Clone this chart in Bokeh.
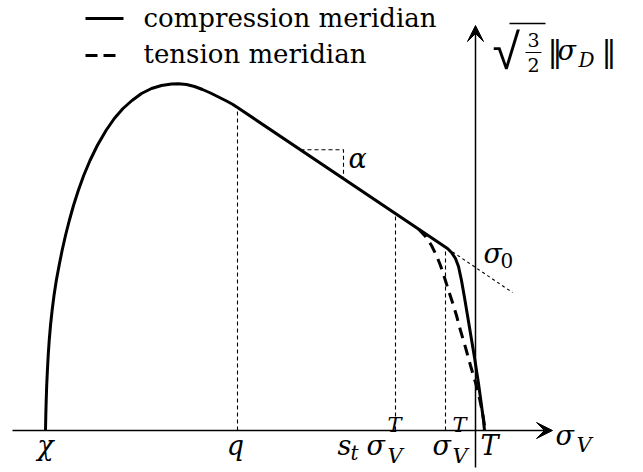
import numpy as np
from bokeh.plotting import figure
from bokeh.models import Range1d, Arrow, VeeHead
from bokeh.core.properties import value
from bokeh.embed import file_html
from bokeh.resources import INLINE

# Characteristic points on the hydrostatic axis (sigma_V)
chi = -430.0          # cap end on the compression side
q_cap = -238.0        # start of the linear (Drucker-Prager) part
st_sigma_vt = -80.0   # s_t * sigma_V^T
sigma_vt = -28.0      # sigma_V^T (corner of the compression meridian)
tension_T = 9.0       # tensile strength T

# Compression meridian: elliptic cap ...
cap_x = [-430.0, -429.7, -429.3, -428.8, -428.1, -427.3, -426.3, -425.0, -423.4,
         -421.5, -419.2, -416.4, -413.4, -410.0, -406.2, -402.0, -397.2, -391.8,
         -385.5, -378.2, -369.5, -361.2, -352.5, -343.5, -334.0, -324.0, -314.0,
         -304.0, -297.0, -289.0, -281.0, -273.0, -265.0, -257.0, -249.0, -243.0,
         -238.0]
cap_y = [0.0, 15.0, 30.0, 45.0, 60.0, 75.0, 90.0, 105.0, 120.0,
         135.0, 150.0, 165.0, 180.0, 195.0, 210.0, 225.0, 240.0, 255.0,
         270.0, 285.0, 300.0, 312.0, 322.0, 330.0, 337.0, 342.0, 345.0,
         346.5, 346.8, 346.0, 344.0, 341.0, 337.5, 333.5, 329.5, 326.3,
         323.0]
# ... straight part up to the corner, then the drop towards T
drop_x = [-28.0, -24.0, -20.0, -17.0, -14.0, -11.0, -8.0, -5.0, -1.0, 3.0, 6.0, 8.0, 9.0]
drop_y = [182.0, 178.0, 172.0, 164.0, 150.0, 133.0, 115.0, 97.0, 73.0, 47.0, 25.0, 10.0, 0.0]

# Tension meridian, branching off the straight part
tens_x = [-57.0, -50.0, -44.0, -39.0, -35.0, -31.0, -27.0, -23.0, -19.0, -15.0,
          -10.0, -5.0, 0.0, 4.0, 7.0, 9.0]
tens_y = [201.5, 194.0, 185.0, 175.0, 165.0, 153.0, 140.0, 128.0, 115.0, 100.0,
          83.0, 65.0, 48.0, 32.0, 18.0, 5.0]

# Extension of the linear part beyond the corner (sigma_0)
ext_x = [-28.0, 37.0]
ext_y = [182.0, 138.0]

# Slope triangle (alpha) on the linear part
alpha_x0, alpha_x1 = -175.0, -132.0

comp_x = cap_x + drop_x
comp_y = cap_y + drop_y

INK = "#000000"
SERIF = "DejaVu Serif"
BASE_SHIFT = 0.38   # the svg text baseline sits this fraction of the font size low

p = figure(width=643, height=472, x_range=Range1d(-475, 168), y_range=Range1d(-42, 430),
           output_backend="svg", toolbar_location=None, min_border=0,
           x_axis_type=None, y_axis_type=None, outline_line_color=None,
           background_fill_color="white", border_fill_color="white")
p.grid.visible = False


def curve_y(x):
    return float(np.interp(x, comp_x, comp_y))


def put(x, y, txt, size=27, italic=True, align="left", font=SERIF):
    p.text(x=[x], y=[y + BASE_SHIFT * size], text=[txt], text_font=value(font),
           text_font_style="italic" if italic else "normal",
           text_font_size=f"{size}px", text_align=align,
           text_baseline="alphabetic", text_color=INK)


# Guide lines: verticals at q, s_t sigma_V^T and sigma_V^T
for xv in (q_cap, st_sigma_vt, sigma_vt - 2):
    p.line([xv, xv], [0, curve_y(xv) - (4 if xv > -50 else 0)], line_color=INK,
           line_width=1.1, line_dash="4 3")

# Dotted extension and alpha triangle
p.line(ext_x, ext_y, line_color=INK, line_width=1.1, line_dash="3 3")
ya0 = curve_y(alpha_x0)
ya1 = curve_y(alpha_x1)
p.line([alpha_x0, alpha_x1, alpha_x1], [ya0, ya0, ya1], line_color=INK,
       line_width=1.1, line_dash="4 3")

# Axes with arrow heads
p.add_layout(Arrow(end=VeeHead(size=16, fill_color=INK, line_color=INK, line_width=1),
                   x_start=-463, y_start=0, x_end=77, y_end=0,
                   line_color=INK, line_width=1.5))
p.add_layout(Arrow(end=VeeHead(size=16, fill_color=INK, line_color=INK, line_width=1),
                   x_start=0, y_start=-37, x_end=0, y_end=405,
                   line_color=INK, line_width=1.5))

# Meridians
p.line(tens_x, tens_y, line_color=INK, line_width=3, line_dash="11 7")
p.line(comp_x, comp_y, line_color=INK, line_width=3, line_join="round")

# Legend
p.line([-390, -352], [412, 412], line_color=INK, line_width=3)
p.line([-390, -360], [375, 375], line_color=INK, line_width=3, line_dash="12 6")
put(-332, 403, "compression meridian", size=26, italic=False)
put(-332, 367, "tension meridian", size=26, italic=False)

# Labels along the sigma_V axis
put(chi, -25, "χ", align="center")
put(q_cap - 2, -25, "q", align="center")
put(st_sigma_vt - 58, -25, "s")
put(st_sigma_vt - 45, -30, "t", size=20)
put(st_sigma_vt - 29, -25, "σ")
put(st_sigma_vt - 8, -2, "T", size=21)
put(st_sigma_vt - 8, -33, "V", size=21)
put(sigma_vt - 15, -25, "σ")
put(sigma_vt + 5, -2, "T", size=21)
put(sigma_vt + 5, -33, "V", size=21)
put(tension_T - 4, -25, "T")
put(80, -15, "σ")
put(101, -22, "V", size=21)

# sigma_0 and alpha
put(8, 167, "σ")
put(25, 162, "0", size=20, italic=False)
put(-127, 262, "α")

# Vertical axis label: sqrt(3/2) ||sigma_D||
put(17, 360, "√", size=50, italic=False, font="Liberation Sans")
p.line([34, 70], [407, 407], line_color=INK, line_width=1.5)
put(58, 383, "3", size=19, italic=False, align="center")
p.line([50, 66], [378, 378], line_color=INK, line_width=1.2)
put(58, 358, "2", size=19, italic=False, align="center")
put(72, 368, "‖", size=30, italic=False)
put(82, 370, "σ")
put(103, 363, "D", size=20)
put(126, 368, "‖", size=30, italic=False)

open("out.html", "w").write(file_html(p, INLINE))
